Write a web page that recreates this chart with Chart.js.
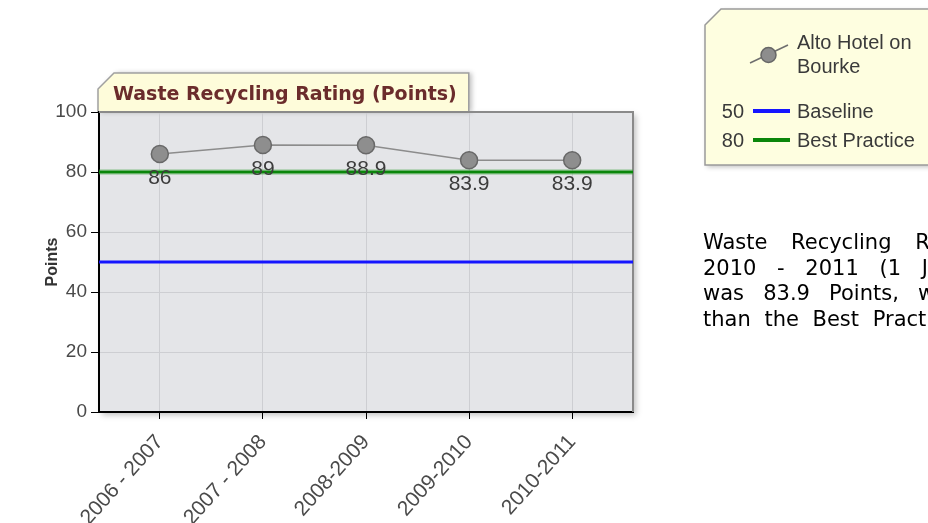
<!DOCTYPE html>
<html><head><meta charset="utf-8">
<script src="https://cdn.jsdelivr.net/npm/chart.js@4.4.1/dist/chart.umd.min.js"></script>
<style>
html,body{margin:0;padding:0;width:928px;height:523px;overflow:hidden;background:#fff;}
#wrap{position:relative;width:928px;height:523px;overflow:hidden;}
#c{position:absolute;left:0;top:0;}
#note{position:absolute;left:703px;top:230px;font-family:'DejaVu Sans',Verdana,sans-serif;font-size:21px;line-height:25.7px;color:#000;white-space:nowrap;}
#note div{white-space:nowrap;}
</style></head><body>
<div id="wrap"><canvas id="c" width="928" height="523"></canvas><div id="note"></div></div>
<script>
const chartTitle = 'Waste Recycling Rating (Points)';
const yAxisTitle = 'Points';
const categories = ['2006 - 2007', '2007 - 2008', '2008-2009', '2009-2010', '2010-2011'];
const seriesName = ['Alto Hotel on', 'Bourke'];
const seriesValues = [86, 89, 88.9, 83.9, 83.9];
const baselineValue = 50;
const baselineLabel = 'Baseline';
const bestPracticeValue = 80;
const bestPracticeLabel = 'Best Practice';
const yTicks = [0, 20, 40, 60, 80, 100];
const noteLines = ['Waste Recycling Rating for', '2010 - 2011 (1 July 2010 - 30 June 2011)', 'was 83.9 Points, which was 3.9 Points better', 'than the Best Practice of 80 Points.'];
const noteSpacing = [17, 14, 12.5, 7];

const note = document.getElementById('note');
noteLines.forEach((t, i) => {
  const d = document.createElement('div');
  d.textContent = t;
  d.style.wordSpacing = noteSpacing[i] + 'px';
  note.appendChild(d);
});

const FONT = "'Liberation Sans', Arial, sans-serif";

const decor = {
  id: 'decor',
  beforeDraw(chart) {
    const ctx = chart.ctx, a = chart.chartArea;
    ctx.save();
    ctx.shadowColor = 'rgba(0,0,0,0.25)';
    ctx.shadowBlur = 6;
    ctx.shadowOffsetX = 3;
    ctx.shadowOffsetY = 3;
    ctx.fillStyle = '#e4e5e8';
    ctx.fillRect(a.left, a.top, a.right - a.left, a.bottom - a.top);
    ctx.restore();
    // title tab
    ctx.save();
    ctx.font = "bold 19px 'DejaVu Sans', Verdana, sans-serif";
    const tw = ctx.measureText(chartTitle).width;
    const L = a.left - 1, B = a.top, T = a.top - 39, R = L + 15 + tw + 12, cut = 16;
    ctx.beginPath();
    ctx.moveTo(L, B);
    ctx.lineTo(L, T + cut);
    ctx.lineTo(L + cut, T);
    ctx.lineTo(R, T);
    ctx.lineTo(R, B);
    ctx.closePath();
    ctx.shadowColor = 'rgba(0,0,0,0.25)';
    ctx.shadowBlur = 5;
    ctx.shadowOffsetX = 3;
    ctx.shadowOffsetY = 0;
    ctx.fillStyle = '#fefcda';
    ctx.fill();
    ctx.shadowColor = 'transparent';
    ctx.strokeStyle = '#a0a0a0';
    ctx.lineWidth = 1.5;
    ctx.beginPath();
    ctx.moveTo(L, B);
    ctx.lineTo(L, T + cut);
    ctx.lineTo(L + cut, T);
    ctx.lineTo(R, T);
    ctx.lineTo(R, B);
    ctx.stroke();
    ctx.fillStyle = '#6b2c2c';
    ctx.textBaseline = 'middle';
    ctx.fillText(chartTitle, L + 15, T + 22);
    ctx.restore();
  },
  beforeDatasetsDraw(chart) {
    const ctx = chart.ctx, a = chart.chartArea, y = chart.scales.y;
    ctx.save();
    ctx.strokeStyle = '#8a8a8a';
    ctx.lineWidth = 2;
    ctx.beginPath();
    ctx.moveTo(a.left, a.top); ctx.lineTo(a.right, a.top); ctx.lineTo(a.right, a.bottom);
    ctx.stroke();
    const yb = y.getPixelForValue(baselineValue);
    ctx.strokeStyle = '#1515ff';
    ctx.lineWidth = 3;
    ctx.beginPath(); ctx.moveTo(a.left, yb); ctx.lineTo(a.right, yb); ctx.stroke();
    const yp = y.getPixelForValue(bestPracticeValue);
    ctx.strokeStyle = 'rgba(60,160,60,0.55)';
    ctx.lineWidth = 5;
    ctx.beginPath(); ctx.moveTo(a.left, yp); ctx.lineTo(a.right, yp); ctx.stroke();
    ctx.strokeStyle = '#0a860a';
    ctx.lineWidth = 2.5;
    ctx.beginPath(); ctx.moveTo(a.left, yp); ctx.lineTo(a.right, yp); ctx.stroke();
    ctx.restore();
  },
  afterDatasetsDraw(chart) {
    const ctx = chart.ctx;
    const meta = chart.getDatasetMeta(0);
    ctx.save();
    ctx.font = '21px ' + FONT;
    ctx.fillStyle = '#3c3c3c';
    ctx.textAlign = 'center';
    ctx.textBaseline = 'middle';
    meta.data.forEach((el, i) => {
      ctx.fillText(String(seriesValues[i]), el.x, el.y + 24);
    });
    ctx.restore();
  },
  afterDraw(chart) {
    const ctx = chart.ctx;
    ctx.save();
    const L = 705, T = 9, B = 165, R = 940, cut = 16;
    ctx.beginPath();
    ctx.moveTo(L, T + cut); ctx.lineTo(L + cut, T); ctx.lineTo(R, T); ctx.lineTo(R, B); ctx.lineTo(L, B); ctx.closePath();
    ctx.shadowColor = 'rgba(0,0,0,0.25)';
    ctx.shadowBlur = 5; ctx.shadowOffsetX = 2; ctx.shadowOffsetY = 2;
    ctx.fillStyle = '#fefee0';
    ctx.fill();
    ctx.shadowColor = 'transparent';
    ctx.strokeStyle = '#9a9a9a';
    ctx.lineWidth = 1.5;
    ctx.stroke();
    ctx.strokeStyle = '#6e6e6e';
    ctx.lineWidth = 1.5;
    ctx.beginPath(); ctx.moveTo(750, 63); ctx.lineTo(788, 45); ctx.stroke();
    ctx.beginPath(); ctx.arc(768.5, 55, 7.5, 0, Math.PI * 2);
    ctx.fillStyle = '#8d8d8d'; ctx.fill();
    ctx.strokeStyle = '#666'; ctx.stroke();
    ctx.font = '20px ' + FONT;
    ctx.fillStyle = '#3a3a3a';
    ctx.textBaseline = 'middle';
    ctx.textAlign = 'left';
    ctx.fillText(seriesName[0], 797, 43);
    ctx.fillText(seriesName[1], 797, 67);
    ctx.fillText(baselineLabel, 797, 112);
    ctx.fillText(bestPracticeLabel, 797, 141);
    ctx.textAlign = 'right';
    ctx.fillText(String(baselineValue), 744, 112);
    ctx.fillText(String(bestPracticeValue), 744, 141);
    ctx.lineWidth = 4;
    ctx.strokeStyle = '#1515ff';
    ctx.beginPath(); ctx.moveTo(753, 111); ctx.lineTo(790, 111); ctx.stroke();
    ctx.strokeStyle = '#0a860a';
    ctx.beginPath(); ctx.moveTo(753, 140); ctx.lineTo(790, 140); ctx.stroke();
    ctx.restore();
  }
};

new Chart(document.getElementById('c'), {
  type: 'line',
  data: {
    datasets: [{
      label: seriesName.join(' '),
      data: seriesValues.map((v, i) => ({ x: i, y: v })),
      borderColor: '#8c8c8c',
      borderWidth: 1.5,
      pointRadius: 8.5,
      pointBackgroundColor: '#8e8e8e',
      pointBorderColor: '#686868',
      pointBorderWidth: 1.5,
      tension: 0,
      clip: false
    }]
  },
  options: {
    responsive: false,
    animation: false,
    layout: { padding: { left: 0, top: 112, right: 295, bottom: 0 } },
    plugins: { legend: { display: false }, tooltip: { enabled: false }, title: { display: false } },
    scales: {
      x: {
        type: 'linear', min: -0.59, max: 4.59,
        afterBuildTicks: s => { s.ticks = categories.map((c, i) => ({ value: i })); },
        afterFit: s => { s.height = 111; },
        ticks: {
          autoSkip: false, minRotation: 48, maxRotation: 48, padding: 11,
          callback: (v, i) => categories[i],
          font: { family: FONT, size: 21 }, color: '#4a4a4a'
        },
        grid: { color: '#cdced2', lineWidth: 1, tickColor: '#000', tickLength: 7 },
        border: { color: '#000', width: 2 }
      },
      y: {
        min: 0, max: 100,
        afterBuildTicks: s => { s.ticks = yTicks.map(v => ({ value: v })); },
        afterFit: s => { s.width = 99; },
        ticks: { font: { family: FONT, size: 19 }, color: '#4a4a4a', padding: 4 },
        grid: { color: '#cdced2', lineWidth: 1, tickColor: '#000', tickLength: 8 },
        border: { color: '#000', width: 2 },
        title: { display: true, text: yAxisTitle, font: { family: FONT, size: 16, weight: 'bold' }, color: '#333', padding: { top: 43, bottom: 0 } }
      }
    }
  },
  plugins: [decor]
});
</script>
</body></html>
